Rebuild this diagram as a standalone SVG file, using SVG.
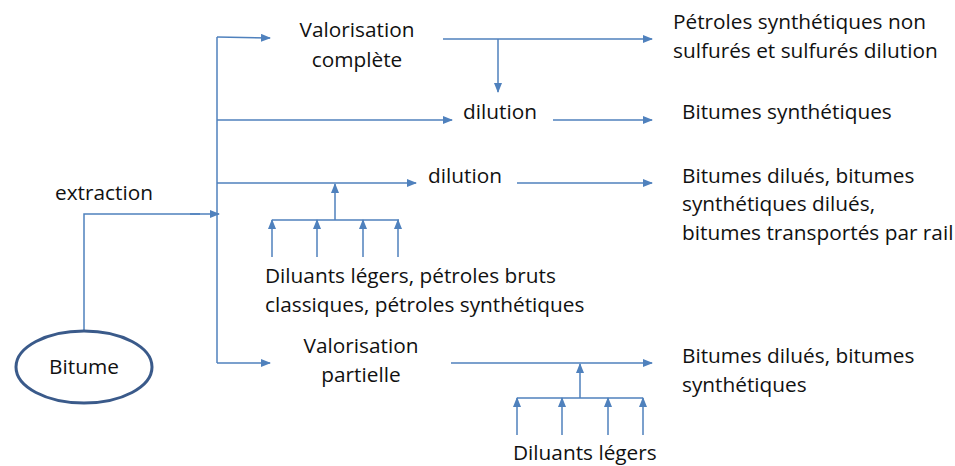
<svg xmlns="http://www.w3.org/2000/svg" width="955" height="466" viewBox="0 0 955 466">
<style>
.t{font-family:"Open Sans","Liberation Sans",Arial,sans-serif;font-size:20.8px;fill:#111}
.c{stroke:#4f81bd;stroke-width:1.5;fill:none}
.a{stroke:#4f81bd;stroke-width:1.5;fill:none;marker-end:url(#ah)}
</style>
<defs>
<marker id="ah" markerWidth="10" markerHeight="8" refX="9" refY="4" orient="auto" markerUnits="userSpaceOnUse">
<path d="M0,0 L10,4 L0,8 Z" fill="#4f81bd"/>
</marker>
</defs>
<rect width="955" height="466" fill="#fff"/>
<g id="connectors">
<path class="c" d="M84,331 V214 H200"/>
<path class="a" d="M190,214 H219"/>
<path class="c" d="M217,37 V363"/>
<path class="a" d="M217,37 L270,38"/>
<path class="a" d="M217,120 H452"/>
<path class="a" d="M217,183 H416"/>
<path class="a" d="M217,363 H270"/>
<path class="a" d="M443,39 H652"/>
<path class="a" d="M498,39 V92"/>
<path class="a" d="M553,120 H652"/>
<path class="a" d="M517,183 H652"/>
<path class="a" d="M451,363 H652"/>
<path class="a" d="M335,220 V184"/>
<path class="c" d="M272,220 H399"/>
<path class="a" d="M272,257 V220"/>
<path class="a" d="M317,257 V220"/>
<path class="a" d="M363,257 V220"/>
<path class="a" d="M398,257 V220"/>
<path class="a" d="M580,398 V364"/>
<path class="c" d="M517,398 H643"/>
<path class="a" d="M517,435 V398"/>
<path class="a" d="M562,435 V398"/>
<path class="a" d="M608,435 V398"/>
<path class="a" d="M643,435 V398"/>
</g>
<g id="bitume">
<ellipse cx="84" cy="367" rx="68" ry="36" fill="#fff" stroke="#3a5a8a" stroke-width="3"/>
<text class="t" x="84" y="374" text-anchor="middle">Bitume</text>
</g>
<g id="extraction"><text class="t" x="55" y="200">extraction</text></g>
<g id="valorisation-complete">
<text class="t" x="357" y="37" text-anchor="middle">Valorisation</text>
<text class="t" x="357" y="67" text-anchor="middle">complète</text>
</g>
<g id="dilution1"><text class="t" x="463" y="119">dilution</text></g>
<g id="dilution2"><text class="t" x="428" y="183">dilution</text></g>
<g id="valorisation-partielle">
<text class="t" x="361" y="353" text-anchor="middle">Valorisation</text>
<text class="t" x="361" y="382" text-anchor="middle">partielle</text>
</g>
<g id="diluants1">
<text class="t" x="265" y="283">Diluants légers, pétroles bruts</text>
<text class="t" x="265" y="312">classiques, pétroles synthétiques</text>
</g>
<g id="diluants2"><text class="t" x="513" y="460">Diluants légers</text></g>
<g id="out1">
<text class="t" x="673" y="29">Pétroles synthétiques non</text>
<text class="t" x="673" y="58">sulfurés et sulfurés dilution</text>
</g>
<g id="out2"><text class="t" x="682" y="119">Bitumes synthétiques</text></g>
<g id="out3">
<text class="t" x="682" y="183">Bitumes dilués, bitumes</text>
<text class="t" x="682" y="211">synthétiques dilués,</text>
<text class="t" x="682" y="240">bitumes transportés par rail</text>
</g>
<g id="out4">
<text class="t" x="682" y="363">Bitumes dilués, bitumes</text>
<text class="t" x="682" y="392">synthétiques</text>
</g>
</svg>
